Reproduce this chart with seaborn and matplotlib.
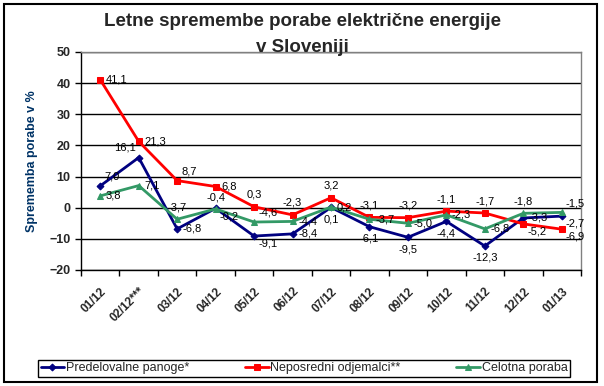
import pandas as pd
import matplotlib.pyplot as plt
import seaborn as sns
from matplotlib.patches import Rectangle

# month labels (x axis)
months = ['01/12', '02/12***', '03/12', '04/12', '05/12', '06/12', '07/12',
          '08/12', '09/12', '10/12', '11/12', '12/12', '01/13']

# yearly change in %, per consumer group
predelovalne = [7.0, 16.1, -6.8, -0.2, -9.1, -8.4, 0.1, -6.1, -9.5, -4.4, -12.3, -3.3, -2.7]
neposredni = [41.1, 21.3, 8.7, 6.8, 0.3, -2.3, 3.2, -3.1, -3.2, -1.1, -1.7, -5.2, -6.9]
celotna = [3.8, 7.1, -3.7, -0.4, -4.6, -4.4, 0.2, -3.7, -5.0, -2.3, -6.8, -1.8, -1.5]

series_names = ['Predelovalne panoge*', 'Neposredni odjemalci**', 'Celotna poraba']
series_values = [predelovalne, neposredni, celotna]
colors = ['#000080', '#FF0000', '#339966']
markers = ['D', 's', '^']
msizes = [3.5, 5, 5]

# where each data label sits relative to its point
label_pos = [
    ['ar', 'al', 'r', 'br', 'br', 'r', 'b', 'b', 'b', 'b', 'b', 'r', 'br'],
    ['r', 'r', 'ar', 'r', 'a', 'a', 'a', 'a', 'a', 'a', 'a', 'br', 'br'],
    ['r', 'r', 'a', 'a', 'ar', 'r', 'r', 'r', 'r', 'r', 'r', 'a', 'ar'],
]
offsets = {'r': (4, 0, 'left', 'center'), 'a': (0, 5, 'center', 'bottom'),
           'b': (0, -5, 'center', 'top'), 'ar': (3, 3, 'left', 'bottom'),
           'al': (-2, 4, 'right', 'bottom'), 'br': (3, -2, 'left', 'top'),
           'bl': (-2, -3, 'right', 'top')}

rows = []
for name, vals in zip(series_names, series_values):
    for i, v in enumerate(vals):
        rows.append({'x': i, 'value': v, 'serija': name})
df = pd.DataFrame(rows)

sns.set_style('white')
plt.rcParams['font.family'] = ['Liberation Sans', 'DejaVu Sans']

fig = plt.figure(figsize=(6.04, 3.86), dpi=100)
ax = fig.add_axes([81 / 604, 1 - 270 / 386, 500 / 604, 218 / 386])

for name, col, mk, ms in zip(series_names, colors, markers, msizes):
    sns.lineplot(data=df[df['serija'] == name], x='x', y='value', ax=ax,
                 color=col, marker=mk, markersize=ms, markeredgecolor=col,
                 linewidth=2, label=name, legend=False)

# data labels
for vals, col_pos in zip(series_values, label_pos):
    for i, (v, p) in enumerate(zip(vals, col_pos)):
        dx, dy, ha, va = offsets[p]
        ax.annotate(f'{v:.1f}'.replace('.', ','), (i, v), xytext=(dx, dy),
                    textcoords='offset points', ha=ha, va=va, fontsize=8,
                    color='black')

ax.set_xlim(-0.5, len(months) - 0.5)
ax.set_ylim(-20, 50)
ax.set_yticks(range(-20, 51, 10))
ax.yaxis.grid(True, color='black', linewidth=1)
ax.set_axisbelow(True)

ax.set_xticks(range(len(months)))
ax.set_xticklabels(months, rotation=45, ha='right', rotation_mode='anchor',
                   fontsize=8.5, fontweight='bold')
ax.set_xticks([i - 0.5 for i in range(len(months) + 1)], minor=True)
ax.tick_params(axis='x', which='major', length=0, pad=11)
ax.tick_params(axis='x', which='minor', length=4, color='black', width=1,
               direction='out', bottom=True)
ax.tick_params(axis='y', length=4, color='black', width=1, direction='out',
               left=True, labelsize=9)
for lab in ax.get_yticklabels():
    lab.set_fontweight('bold')

ax.spines['left'].set_color('black')
ax.spines['bottom'].set_color('black')
ax.spines['top'].set_color('#808080')
ax.spines['right'].set_color('#808080')
for s in ax.spines.values():
    s.set_linewidth(1)

ax.set_xlabel('')
ax.set_ylabel('Sprememba porabe v %', fontsize=9, fontweight='bold',
              color='#003366', labelpad=8)

fig.text(0.5, 1 - 22 / 386, 'Letne spremembe porabe električne energije',
         ha='center', va='center', fontsize=13.5, fontweight='bold')
fig.text(0.5, 1 - 48 / 386, 'v Sloveniji', ha='center', va='center',
         fontsize=13.5, fontweight='bold')

handles, labels = ax.get_legend_handles_labels()
leg = fig.legend(handles, labels, ncol=3, loc='lower left', mode='expand',
                 bbox_to_anchor=(38 / 604, 1 - 377 / 386, 532 / 604, 19 / 386),
                 fontsize=9, frameon=True, fancybox=False, framealpha=1,
                 edgecolor='black', borderpad=0.2, handlelength=1.9,
                 handletextpad=0.15, borderaxespad=0)
leg.get_frame().set_linewidth(1)

fig.patches.append(Rectangle((4 / 604, 1 - 382 / 386), 593 / 604, 378 / 386,
                             transform=fig.transFigure, fill=False,
                             edgecolor='black', linewidth=1.5))

fig.savefig('out.png', dpi=100)
